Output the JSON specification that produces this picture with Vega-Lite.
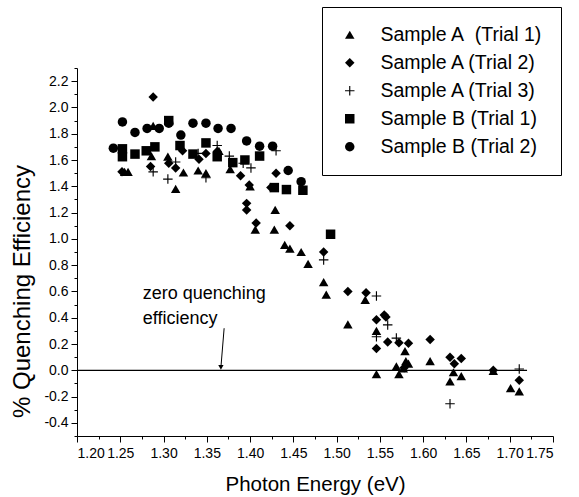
{
  "$schema": "https://vega.github.io/schema/vega-lite/v6.json",
  "width": 476,
  "height": 368,
  "autosize": {"type": "none"},
  "padding": {"left": 77, "top": 68, "right": 26, "bottom": 61},
  "background": "white",
  "config": {
    "font": "Liberation Sans",
    "view": {"stroke": null},
    "axis": {
      "domainColor": "black",
      "domainWidth": 1,
      "tickColor": "black",
      "tickWidth": 1,
      "labelColor": "black",
      "labelFont": "Liberation Sans",
      "labelFontSize": 14,
      "titleFont": "Liberation Sans",
      "titleFontWeight": "normal",
      "titleColor": "black",
      "grid": false,
      "labelOverlap": false
    }
  },
  "layer": [
    {
      "data": {
        "values": [
          {"series": "Sample A  (Trial 1)", "energy": 1.255, "qe": 1.51},
          {"series": "Sample A  (Trial 1)", "energy": 1.259, "qe": 1.51},
          {"series": "Sample A  (Trial 1)", "energy": 1.286, "qe": 1.63},
          {"series": "Sample A  (Trial 1)", "energy": 1.288, "qe": 1.86},
          {"series": "Sample A  (Trial 1)", "energy": 1.305, "qe": 1.625},
          {"series": "Sample A  (Trial 1)", "energy": 1.314, "qe": 1.38},
          {"series": "Sample A  (Trial 1)", "energy": 1.323, "qe": 1.505},
          {"series": "Sample A  (Trial 1)", "energy": 1.34, "qe": 1.52},
          {"series": "Sample A  (Trial 1)", "energy": 1.349, "qe": 1.5},
          {"series": "Sample A  (Trial 1)", "energy": 1.364, "qe": 1.67},
          {"series": "Sample A  (Trial 1)", "energy": 1.377, "qe": 1.53},
          {"series": "Sample A  (Trial 1)", "energy": 1.4, "qe": 1.4},
          {"series": "Sample A  (Trial 1)", "energy": 1.406, "qe": 1.07},
          {"series": "Sample A  (Trial 1)", "energy": 1.429, "qe": 1.22},
          {"series": "Sample A  (Trial 1)", "energy": 1.428, "qe": 1.07},
          {"series": "Sample A  (Trial 1)", "energy": 1.44, "qe": 0.955},
          {"series": "Sample A  (Trial 1)", "energy": 1.446, "qe": 0.925},
          {"series": "Sample A  (Trial 1)", "energy": 1.459, "qe": 0.9},
          {"series": "Sample A  (Trial 1)", "energy": 1.467, "qe": 0.81},
          {"series": "Sample A  (Trial 1)", "energy": 1.485, "qe": 0.67},
          {"series": "Sample A  (Trial 1)", "energy": 1.488, "qe": 0.575},
          {"series": "Sample A  (Trial 1)", "energy": 1.513, "qe": 0.35},
          {"series": "Sample A  (Trial 1)", "energy": 1.533, "qe": 0.535},
          {"series": "Sample A  (Trial 1)", "energy": 1.546, "qe": 0.3},
          {"series": "Sample A  (Trial 1)", "energy": 1.546, "qe": -0.03},
          {"series": "Sample A  (Trial 1)", "energy": 1.569, "qe": 0.03},
          {"series": "Sample A  (Trial 1)", "energy": 1.572, "qe": -0.03},
          {"series": "Sample A  (Trial 1)", "energy": 1.577, "qe": 0.015},
          {"series": "Sample A  (Trial 1)", "energy": 1.58, "qe": 0.07},
          {"series": "Sample A  (Trial 1)", "energy": 1.583, "qe": 0.05},
          {"series": "Sample A  (Trial 1)", "energy": 1.579, "qe": 0.145},
          {"series": "Sample A  (Trial 1)", "energy": 1.608, "qe": 0.07},
          {"series": "Sample A  (Trial 1)", "energy": 1.631, "qe": -0.085},
          {"series": "Sample A  (Trial 1)", "energy": 1.635, "qe": -0.015},
          {"series": "Sample A  (Trial 1)", "energy": 1.644, "qe": -0.045},
          {"series": "Sample A  (Trial 1)", "energy": 1.681, "qe": -0.005},
          {"series": "Sample A  (Trial 1)", "energy": 1.701, "qe": -0.135},
          {"series": "Sample A  (Trial 1)", "energy": 1.711, "qe": -0.16},
          {"series": "Sample A (Trial 2)", "energy": 1.252, "qe": 1.51},
          {"series": "Sample A (Trial 2)", "energy": 1.288, "qe": 2.08},
          {"series": "Sample A (Trial 2)", "energy": 1.285, "qe": 1.55},
          {"series": "Sample A (Trial 2)", "energy": 1.306, "qe": 1.575},
          {"series": "Sample A (Trial 2)", "energy": 1.314, "qe": 1.54},
          {"series": "Sample A (Trial 2)", "energy": 1.322, "qe": 1.67},
          {"series": "Sample A (Trial 2)", "energy": 1.341, "qe": 1.605},
          {"series": "Sample A (Trial 2)", "energy": 1.349, "qe": 1.65},
          {"series": "Sample A (Trial 2)", "energy": 1.362, "qe": 1.665},
          {"series": "Sample A (Trial 2)", "energy": 1.389, "qe": 1.48},
          {"series": "Sample A (Trial 2)", "energy": 1.396, "qe": 1.27},
          {"series": "Sample A (Trial 2)", "energy": 1.396, "qe": 1.22},
          {"series": "Sample A (Trial 2)", "energy": 1.399, "qe": 1.41},
          {"series": "Sample A (Trial 2)", "energy": 1.407, "qe": 1.12},
          {"series": "Sample A (Trial 2)", "energy": 1.424, "qe": 1.39},
          {"series": "Sample A (Trial 2)", "energy": 1.43, "qe": 1.5},
          {"series": "Sample A (Trial 2)", "energy": 1.446, "qe": 1.1},
          {"series": "Sample A (Trial 2)", "energy": 1.485, "qe": 0.9},
          {"series": "Sample A (Trial 2)", "energy": 1.513, "qe": 0.6},
          {"series": "Sample A (Trial 2)", "energy": 1.534, "qe": 0.59},
          {"series": "Sample A (Trial 2)", "energy": 1.546, "qe": 0.385},
          {"series": "Sample A (Trial 2)", "energy": 1.546, "qe": 0.165},
          {"series": "Sample A (Trial 2)", "energy": 1.555, "qe": 0.42},
          {"series": "Sample A (Trial 2)", "energy": 1.557, "qe": 0.405},
          {"series": "Sample A (Trial 2)", "energy": 1.559, "qe": 0.215},
          {"series": "Sample A (Trial 2)", "energy": 1.572, "qe": 0.21},
          {"series": "Sample A (Trial 2)", "energy": 1.583, "qe": 0.205},
          {"series": "Sample A (Trial 2)", "energy": 1.578, "qe": 0.02},
          {"series": "Sample A (Trial 2)", "energy": 1.608, "qe": 0.235},
          {"series": "Sample A (Trial 2)", "energy": 1.631, "qe": 0.1},
          {"series": "Sample A (Trial 2)", "energy": 1.636, "qe": 0.05},
          {"series": "Sample A (Trial 2)", "energy": 1.644, "qe": 0.09},
          {"series": "Sample A (Trial 2)", "energy": 1.681, "qe": 0.0},
          {"series": "Sample A (Trial 2)", "energy": 1.711, "qe": -0.075},
          {"series": "Sample A (Trial 3)", "energy": 1.288, "qe": 1.51},
          {"series": "Sample A (Trial 3)", "energy": 1.305, "qe": 1.455},
          {"series": "Sample A (Trial 3)", "energy": 1.314, "qe": 1.585},
          {"series": "Sample A (Trial 3)", "energy": 1.34, "qe": 1.65},
          {"series": "Sample A (Trial 3)", "energy": 1.349, "qe": 1.465},
          {"series": "Sample A (Trial 3)", "energy": 1.362, "qe": 1.71},
          {"series": "Sample A (Trial 3)", "energy": 1.376, "qe": 1.63},
          {"series": "Sample A (Trial 3)", "energy": 1.392, "qe": 1.575},
          {"series": "Sample A (Trial 3)", "energy": 1.401, "qe": 1.54},
          {"series": "Sample A (Trial 3)", "energy": 1.43, "qe": 1.67},
          {"series": "Sample A (Trial 3)", "energy": 1.485, "qe": 0.84},
          {"series": "Sample A (Trial 3)", "energy": 1.546, "qe": 0.565},
          {"series": "Sample A (Trial 3)", "energy": 1.559, "qe": 0.345},
          {"series": "Sample A (Trial 3)", "energy": 1.546, "qe": 0.255},
          {"series": "Sample A (Trial 3)", "energy": 1.569, "qe": 0.245},
          {"series": "Sample A (Trial 3)", "energy": 1.631, "qe": -0.255},
          {"series": "Sample A (Trial 3)", "energy": 1.711, "qe": 0.01},
          {"series": "Sample B (Trial 1)", "energy": 1.2525, "qe": 1.685},
          {"series": "Sample B (Trial 1)", "energy": 1.2525, "qe": 1.625},
          {"series": "Sample B (Trial 1)", "energy": 1.267, "qe": 1.645},
          {"series": "Sample B (Trial 1)", "energy": 1.28, "qe": 1.67},
          {"series": "Sample B (Trial 1)", "energy": 1.29, "qe": 1.7},
          {"series": "Sample B (Trial 1)", "energy": 1.306, "qe": 1.9},
          {"series": "Sample B (Trial 1)", "energy": 1.319, "qe": 1.71},
          {"series": "Sample B (Trial 1)", "energy": 1.334, "qe": 1.645},
          {"series": "Sample B (Trial 1)", "energy": 1.349, "qe": 1.73},
          {"series": "Sample B (Trial 1)", "energy": 1.362, "qe": 1.625},
          {"series": "Sample B (Trial 1)", "energy": 1.38, "qe": 1.58},
          {"series": "Sample B (Trial 1)", "energy": 1.394, "qe": 1.6},
          {"series": "Sample B (Trial 1)", "energy": 1.411, "qe": 1.63},
          {"series": "Sample B (Trial 1)", "energy": 1.428, "qe": 1.39},
          {"series": "Sample B (Trial 1)", "energy": 1.442, "qe": 1.375},
          {"series": "Sample B (Trial 1)", "energy": 1.461, "qe": 1.37},
          {"series": "Sample B (Trial 1)", "energy": 1.493, "qe": 1.035},
          {"series": "Sample B (Trial 2)", "energy": 1.242, "qe": 1.69},
          {"series": "Sample B (Trial 2)", "energy": 1.2525, "qe": 1.89},
          {"series": "Sample B (Trial 2)", "energy": 1.267, "qe": 1.81},
          {"series": "Sample B (Trial 2)", "energy": 1.281, "qe": 1.84},
          {"series": "Sample B (Trial 2)", "energy": 1.295, "qe": 1.84},
          {"series": "Sample B (Trial 2)", "energy": 1.306, "qe": 1.88},
          {"series": "Sample B (Trial 2)", "energy": 1.32, "qe": 1.79},
          {"series": "Sample B (Trial 2)", "energy": 1.334, "qe": 1.88},
          {"series": "Sample B (Trial 2)", "energy": 1.349, "qe": 1.88},
          {"series": "Sample B (Trial 2)", "energy": 1.363, "qe": 1.84},
          {"series": "Sample B (Trial 2)", "energy": 1.378, "qe": 1.84},
          {"series": "Sample B (Trial 2)", "energy": 1.396, "qe": 1.745},
          {"series": "Sample B (Trial 2)", "energy": 1.411, "qe": 1.705},
          {"series": "Sample B (Trial 2)", "energy": 1.426, "qe": 1.705},
          {"series": "Sample B (Trial 2)", "energy": 1.444, "qe": 1.52},
          {"series": "Sample B (Trial 2)", "energy": 1.459, "qe": 1.435}
        ]
      },
      "mark": {"type": "point", "filled": true, "color": "black", "opacity": 1, "size": 90},
      "encoding": {
        "x": {
          "field": "energy", "type": "quantitative",
          "scale": {"domain": [1.2, 1.75], "nice": false, "zero": false},
          "axis": {
            "title": "Photon Energy (eV)",
            "titleFontSize": 20.5,
            "titlePadding": 14,
            "format": ".2f",
            "tickCount": 100,
            "values": [1.2, 1.225, 1.25, 1.275, 1.3, 1.325, 1.35, 1.375, 1.4, 1.425, 1.45, 1.475, 1.5, 1.525, 1.55, 1.575, 1.6, 1.625, 1.65, 1.675, 1.7, 1.725, 1.75],
            "labelExpr": "abs(round(datum.value*1000)) % 50 === 0 ? datum.label : ''",
            "tickSize": {"condition": {"test": "abs(round(datum.value*1000)) % 50 === 0", "value": 6}, "value": 3},
            "labelPadding": 4
          }
        },
        "y": {
          "field": "qe", "type": "quantitative",
          "scale": {"domain": [-0.5, 2.3], "nice": false, "zero": false},
          "axis": {
            "title": "% Quenching Efficiency",
            "titleFontSize": 24,
            "titleAngle": -90,
            "titleX": -67,
            "titleY": 223,
            "titleBaseline": "top",
            "titleAlign": "center",
            "format": ".1f",
            "tickCount": 100,
            "labelOverlap": false,
            "values": [-0.5, -0.4, -0.3, -0.2, -0.1, 0, 0.1, 0.2, 0.3, 0.4, 0.5, 0.6, 0.7, 0.8, 0.9, 1.0, 1.1, 1.2, 1.3, 1.4, 1.5, 1.6, 1.7, 1.8, 1.9, 2.0, 2.1, 2.2, 2.3],
            "labelExpr": "(abs(round(datum.value*10)) % 2 === 0) && (datum.value > -0.45) && (datum.value < 2.25) ? replace(datum.label, '\u2212', '-') : ''",
            "tickSize": {"condition": {"test": "abs(round(datum.value*10)) % 2 === 0", "value": 6}, "value": 3},
            "labelPadding": 3
          }
        },
        "shape": {
          "field": "series", "type": "nominal",
          "scale": {
            "domain": ["Sample A  (Trial 1)", "Sample A (Trial 2)", "Sample A (Trial 3)", "Sample B (Trial 1)", "Sample B (Trial 2)"],
            "range": ["triangle-up", "diamond", "M-1,-0.12H-0.12V-1H0.12V-0.12H1V0.12H0.12V1H-0.12V0.12H-1Z", "square", "circle"]
          },
          "legend": {
            "orient": "none",
            "legendX": 245,
            "legendY": -61,
            "title": null,
            "labelFontSize": 19.5,
            "labelFont": "Liberation Sans",
            "labelColor": "black",
            "labelLimit": 0,
            "labelOffset": 21,
            "symbolSize": 90,
            "symbolFillColor": "black",
            "symbolOpacity": 1,
            "strokeColor": "black",
            "fillColor": "white",
            "padding": 18,
            "rowPadding": 7,
            "labelExpr": "replace(datum.label, 'A  (', 'A\u00a0 (')"
          }
        }
      }
    },
    {
      "data": {"values": [{"energy": 1.2, "energy2": 1.72, "qe": 0}]},
      "mark": {"type": "rule", "color": "black", "strokeWidth": 1.3},
      "encoding": {
        "x": {"field": "energy", "type": "quantitative"},
        "x2": {"field": "energy2"},
        "y": {"field": "qe", "type": "quantitative"}
      }
    },
    {
      "data": {"values": [{"energy": 1.37, "energy2": 1.3665, "qe": 0.32, "qe2": 0.04}]},
      "mark": {"type": "rule", "color": "black", "strokeWidth": 1},
      "encoding": {
        "x": {"field": "energy", "type": "quantitative"},
        "x2": {"field": "energy2"},
        "y": {"field": "qe", "type": "quantitative"},
        "y2": {"field": "qe2"}
      }
    },
    {
      "data": {"values": [{"energy": 1.3663, "qe": 0.022}]},
      "mark": {"type": "point", "shape": "triangle-down", "filled": true, "color": "black", "opacity": 1, "size": 28},
      "encoding": {
        "x": {"field": "energy", "type": "quantitative"},
        "y": {"field": "qe", "type": "quantitative"}
      }
    },
    {
      "data": {"values": [
        {"energy": 1.276, "qe": 0.58, "note": "zero quenching"},
        {"energy": 1.276, "qe": 0.39, "note": "efficiency"}
      ]},
      "mark": {"type": "text", "align": "left", "baseline": "middle", "fontSize": 18, "font": "Liberation Sans", "color": "black"},
      "encoding": {
        "x": {"field": "energy", "type": "quantitative"},
        "y": {"field": "qe", "type": "quantitative"},
        "text": {"field": "note"}
      }
    }
  ]
}
